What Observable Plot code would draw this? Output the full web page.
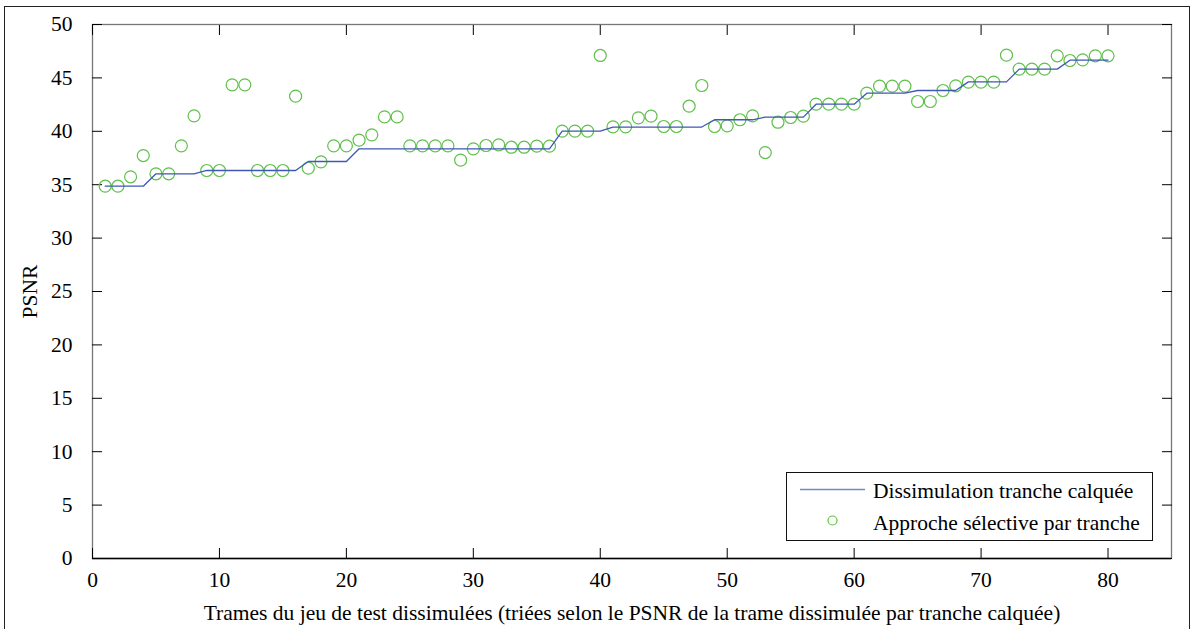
<!DOCTYPE html>
<html>
<head>
<meta charset="utf-8">
<script src="https://cdn.jsdelivr.net/npm/d3@7"></script>
<script src="https://cdn.jsdelivr.net/npm/@observablehq/plot@0.6"></script>
<style>
  html, body { margin: 0; padding: 0; background: #fff; }
  #wrap { position: relative; width: 1192px; height: 629px; overflow: hidden; font-family: "Liberation Serif", "Times New Roman", serif; }
  #outer { position: absolute; left: 4px; top: 6px; width: 1186px; height: 700px; border: 1px solid #222; box-sizing: border-box; pointer-events: none; }
  #legend { position: absolute; left: 786px; top: 472px; width: 367px; height: 69px; border: 1px solid #111; box-sizing: border-box; background: #fff; }
  #legend svg { position: absolute; left: 0; top: 0; }
  .lt { position: absolute; left: 86px; font-size: 21.5px; color: #000; white-space: nowrap; line-height: 1; }
</style>
</head>
<body>
<div id="wrap"><div id="outer"></div></div>
<script>
// x: frame index of the test set (sorted)
const frames = d3.range(1, 81);
// PSNR of the concealed frame, "Dissimulation tranche calquée"
const calquee = [
  34.86, 34.86, 34.86, 34.86,
  36.02, 36.02, 36.02, 36.02,
  36.33, 36.33, 36.33, 36.33, 36.33, 36.33, 36.33, 36.33,
  37.17, 37.17, 37.17, 37.17,
  38.36, 38.36, 38.36, 38.36, 38.36, 38.36, 38.36, 38.36,
  38.36, 38.36, 38.36, 38.36, 38.36, 38.36, 38.36, 38.36,
  40.01, 40.01, 40.01, 40.01,
  40.40, 40.40, 40.40, 40.40, 40.40, 40.40, 40.40, 40.40,
  41.08, 41.08, 41.08, 41.08,
  41.33, 41.33, 41.33, 41.33,
  42.54, 42.54, 42.54, 42.54,
  43.57, 43.57, 43.57, 43.57,
  43.82, 43.82, 43.82, 43.82,
  44.63, 44.63, 44.63, 44.63,
  45.82, 45.82, 45.82, 45.82,
  46.66, 46.66, 46.66, 46.66
];
// PSNR, "Approche sélective par tranche"
const selective = [
  34.86, 34.86, 35.74, 37.73, 36.02, 36.02, 38.64, 41.45, 36.33, 36.33,
  44.35, 44.35, 36.33, 36.33, 36.33, 43.29, 36.55, 37.14, 38.64, 38.64,
  39.17, 39.67, 41.35, 41.35, 38.64, 38.64, 38.64, 38.64, 37.30, 38.36,
  38.67, 38.73, 38.51, 38.51, 38.61, 38.61, 40.01, 40.01, 40.01, 47.10,
  40.42, 40.42, 41.26, 41.42, 40.45, 40.45, 42.35, 44.29, 40.45, 40.51,
  41.08, 41.45, 38.01, 40.85, 41.29, 41.42, 42.54, 42.54, 42.54, 42.54,
  43.57, 44.23, 44.23, 44.23, 42.79, 42.79, 43.82, 44.26, 44.60, 44.60,
  44.60, 47.13, 45.82, 45.82, 45.82, 47.07, 46.63, 46.69, 47.07, 47.07
];
const xTicks = [0, 10, 20, 30, 40, 50, 60, 70, 80];
const yTicks = [0, 5, 10, 15, 20, 25, 30, 35, 40, 45, 50];
const seriesNames = ["Dissimulation tranche calquée", "Approche sélective par tranche"];
const xLabel = "Trames du jeu de test dissimulées (triées selon le PSNR de la trame dissimulée par tranche calquée)";
const yLabel = "PSNR";

const lineData = frames.map((f, i) => ({x: f, y: calquee[i]}));
const dotData = frames.map((f, i) => ({x: f, y: selective[i]}));

const lineColor = "#3f57b5";
const dotColor = "#5fc04a";
const font = "Liberation Serif, Times New Roman, serif";

const chart = Plot.plot({
  width: 1192,
  height: 629,
  marginLeft: 92,
  marginRight: 21,
  marginTop: 24,
  marginBottom: 71,
  style: {fontFamily: font, fontSize: "21.5px", color: "#000", background: "transparent"},
  x: {domain: [0, 85]},
  y: {domain: [0, 50]},
  marks: [
    Plot.frame({stroke: "#777", strokeWidth: 1.3}),
    Plot.ruleY([0], {stroke: "#000", strokeWidth: 1.3}),
    Plot.axisX(xTicks, {anchor: "bottom", tickSize: -10, stroke: "#000", tickPadding: 23, fontSize: 21.5, label: xLabel, labelAnchor: "center", labelArrow: "none", labelOffset: 61}),
    Plot.axisX(xTicks, {anchor: "top", tickSize: -10, stroke: "#000", text: null, label: null}),
    Plot.axisY(yTicks, {anchor: "left", tickSize: -10, stroke: "#000", tickPadding: 30, fontSize: 21.5, label: yLabel, labelAnchor: "center", labelArrow: "none", labelOffset: 71}),
    Plot.axisY(yTicks, {anchor: "right", tickSize: -10, stroke: "#000", text: null, label: null}),
    Plot.dot(dotData, {x: "x", y: "y", r: 6, stroke: dotColor, strokeWidth: 1.2, fill: "none"}),
    Plot.line(lineData, {x: "x", y: "y", stroke: lineColor, strokeWidth: 1.3})
  ]
});
const wrap = document.getElementById("wrap");
chart.style.position = "absolute";
chart.style.left = "0px";
chart.style.top = "0px";
wrap.insertBefore(chart, wrap.firstChild);

// legend
const legend = document.createElement("div");
legend.id = "legend";
const ns = "http://www.w3.org/2000/svg";
const lsvg = document.createElementNS(ns, "svg");
lsvg.setAttribute("width", 365);
lsvg.setAttribute("height", 67);
const ln = document.createElementNS(ns, "line");
ln.setAttribute("x1", 13); ln.setAttribute("x2", 78);
ln.setAttribute("y1", 16.5); ln.setAttribute("y2", 16.5);
ln.setAttribute("stroke", "#7486cc"); ln.setAttribute("stroke-width", 1.5);
lsvg.appendChild(ln);
const c = document.createElementNS(ns, "circle");
c.setAttribute("cx", 45.5); c.setAttribute("cy", 47.5); c.setAttribute("r", 4.5);
c.setAttribute("fill", "none"); c.setAttribute("stroke", dotColor); c.setAttribute("stroke-width", 1.2);
lsvg.appendChild(c);
legend.appendChild(lsvg);
seriesNames.forEach((name, i) => {
  const t = document.createElement("div");
  t.className = "lt";
  t.textContent = name;
  t.style.top = (i === 0 ? 8 : 40) + "px";
  legend.appendChild(t);
});
wrap.appendChild(legend);
</script>
</body>
</html>
